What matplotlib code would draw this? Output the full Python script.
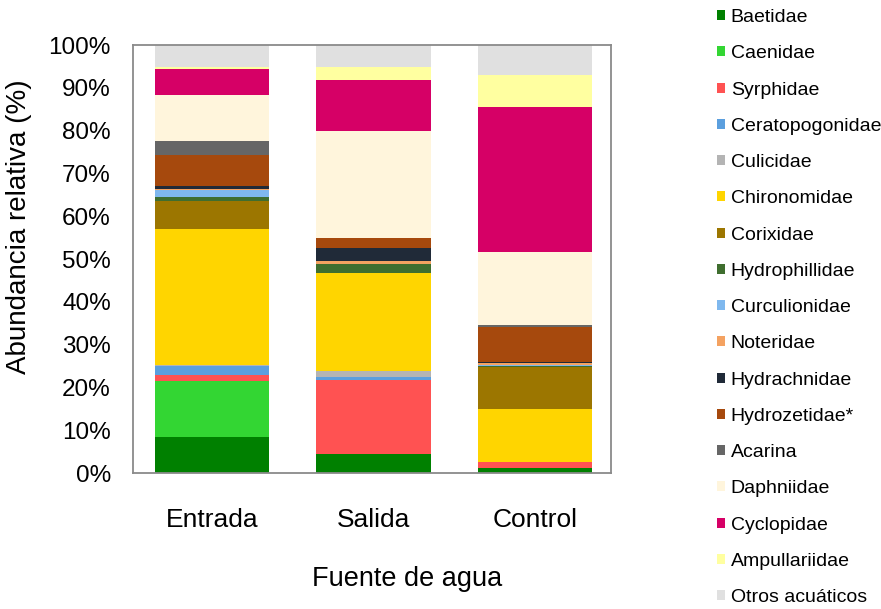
import numpy as np
import matplotlib
matplotlib.use("Agg")
import matplotlib.pyplot as plt
from matplotlib.ticker import PercentFormatter

plt.rcParams['font.family'] = ['Liberation Sans', 'DejaVu Sans']

# sites
sites = ['Entrada', 'Salida', 'Control']

# relative abundance (%) per family, order = stacking order (bottom first)
families = ['Baetidae', 'Caenidae', 'Syrphidae', 'Ceratopogonidae', 'Culicidae',
            'Chironomidae', 'Corixidae', 'Hydrophillidae', 'Curculionidae',
            'Noteridae', 'Hydrachnidae', 'Hydrozetidae*', 'Acarina',
            'Daphniidae', 'Cyclopidae', 'Ampullariidae', 'Otros acuáticos']

baetidae = [8.3, 4.4, 1.2]
caenidae = [13.3, 0.0, 0.0]
syrphidae = [1.2, 17.4, 1.3]
ceratopogonidae = [2.1, 0.7, 0.0]
culicidae = [0.3, 1.4, 0.0]
chironomidae = [31.9, 22.8, 12.4]
corixidae = [6.4, 0.0, 9.8]
hydrophillidae = [1.0, 2.2, 0.2]
curculionidae = [1.7, 0.0, 0.4]
noteridae = [0.2, 0.6, 0.5]
hydrachnidae = [0.6, 3.0, 0.2]
hydrozetidae = [7.4, 2.3, 8.2]
acarina = [3.2, 0.0, 0.3]
daphniidae = [10.7, 25.2, 17.1]
cyclopidae = [6.0, 11.8, 34.0]
ampullariidae = [0.6, 3.0, 7.5]
otros = [5.1, 5.2, 6.9]

series = [baetidae, caenidae, syrphidae, ceratopogonidae, culicidae,
          chironomidae, corixidae, hydrophillidae, curculionidae, noteridae,
          hydrachnidae, hydrozetidae, acarina, daphniidae, cyclopidae,
          ampullariidae, otros]

colors = ['#008000', '#33d633', '#ff5252', '#5b9fde', '#b4b4b4',
          '#ffd500', '#9c7600', '#3f6e2f', '#7fb8ee', '#f4a261',
          '#202a38', '#a6490d', '#666666', '#fff5dc', '#d60066',
          '#ffffa0', '#e0e0e0']

fig = plt.figure(figsize=(8.81, 6.09), dpi=100)
ax = fig.add_axes([0.151, 0.2233, 0.5425, 0.7027])

x = np.arange(len(sites))
bottom = np.zeros(len(sites))
for name, vals, c in zip(families, series, colors):
    vals = np.array(vals)
    ax.bar(x, vals, width=0.71, bottom=bottom, color=c, label=name, linewidth=0)
    bottom += vals

ax.set_xlim(-0.49, 2.47)
ax.set_ylim(0, 100)
ax.set_yticks(np.arange(0, 101, 10))
ax.yaxis.set_major_formatter(PercentFormatter(decimals=0))
ax.set_xticks(x)
ax.set_xticklabels(sites, fontsize=19)
ax.tick_params(axis='y', labelsize=17.5, length=0, pad=16)
ax.tick_params(axis='x', length=0, pad=25)
for s in ax.spines.values():
    s.set_color('#8a8a8a')
    s.set_linewidth(1.3)

ax.set_xlabel('Fuente de agua', fontsize=19.5)
ax.xaxis.set_label_coords(0.573, -0.218)
ax.set_ylabel('Abundancia relativa (%)', fontsize=20)
ax.yaxis.set_label_coords(-0.211, 0.576)

fig.legend(loc='upper left', bbox_to_anchor=(0.8135, 0.985), frameon=False,
           fontsize=14, handlelength=0.42, handleheight=0.42,
           handletextpad=0.3, labelspacing=0.99, borderpad=0, borderaxespad=0)

fig.savefig('out.png', dpi=100)
